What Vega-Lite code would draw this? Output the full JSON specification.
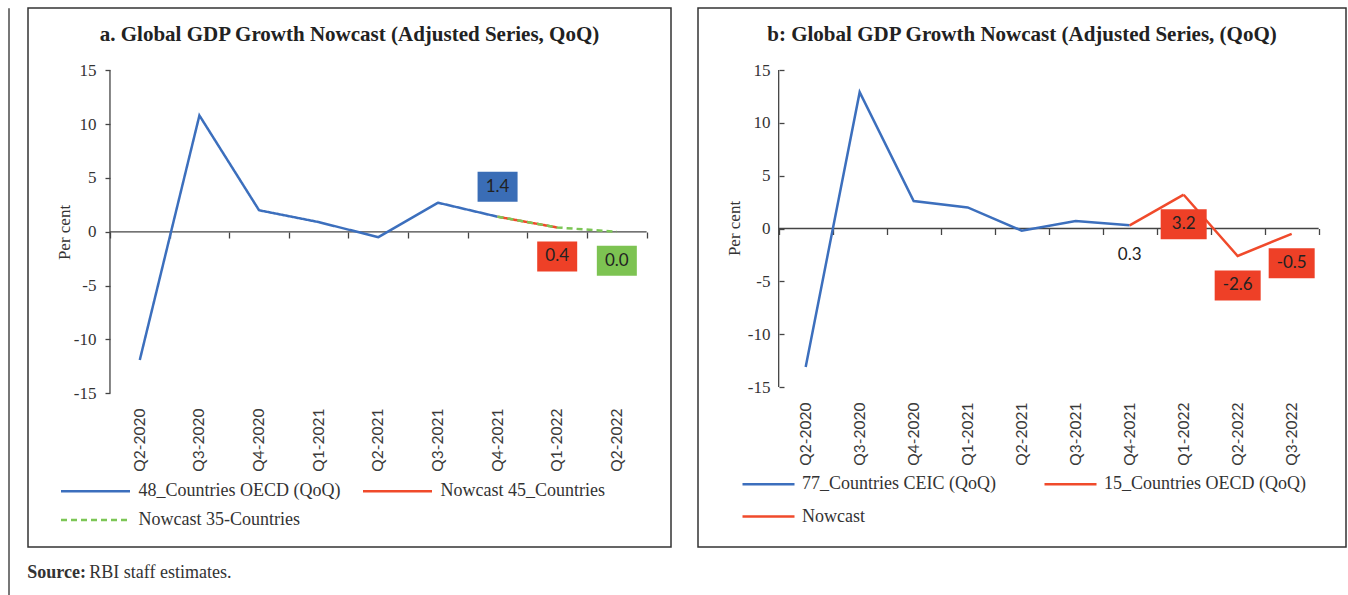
{
  "$schema": "https://vega.github.io/schema/vega-lite/v6.json",
  "padding": {"left": 7, "top": 7, "right": 0, "bottom": 0},
  "config": {
    "view": {"stroke": "#333333", "strokeWidth": 1.5},
    "axis": {"grid": false},
    "background": "white",
    "locale": {"number": {"decimal": ".", "thousands": ",", "grouping": [3], "currency": ["$", ""], "minus": "-"}}
  },
  "spacing": 17,
  "hconcat": [
    {
      "width": 1,
      "height": 588,
      "view": {"stroke": "#777777", "strokeWidth": 1},
      "data": {"values": [{}]},
      "mark": {"type": "rule", "opacity": 0},
      "encoding": {}
    },
    {
      "title": {"text": "Source:", "orient": "bottom", "anchor": "start", "font": "Liberation Serif", "fontSize": 18, "fontWeight": "bold", "color": "#333333", "offset": -18},
      "vconcat": [
        {
          "title": {"text": "RBI staff estimates.", "orient": "bottom", "anchor": "start", "dx": 62, "offset": 16, "font": "Liberation Serif", "fontSize": 18, "fontWeight": "normal", "color": "#333333"},
          "spacing": 25,
          "resolve": {
            "scale": {"x": "independent", "y": "independent", "color": "independent", "strokeDash": "independent"},
            "legend": {"color": "independent", "strokeDash": "independent"}
          },
          "hconcat": [
            {
              "width": 643,
              "height": 539,
              "title": {"text": "a. Global GDP Growth Nowcast (Adjusted Series, QoQ)", "font": "Liberation Serif", "fontSize": 21, "fontWeight": "bold", "color": "#222222", "anchor": "middle", "offset": -36.5},
              "data": {"values": [
                {"q": "Q2-2020", "v": -11.9, "s": "48_Countries OECD (QoQ)"},
                {"q": "Q3-2020", "v": 10.8, "s": "48_Countries OECD (QoQ)"},
                {"q": "Q4-2020", "v": 2.0, "s": "48_Countries OECD (QoQ)"},
                {"q": "Q1-2021", "v": 0.9, "s": "48_Countries OECD (QoQ)"},
                {"q": "Q2-2021", "v": -0.5, "s": "48_Countries OECD (QoQ)"},
                {"q": "Q3-2021", "v": 2.7, "s": "48_Countries OECD (QoQ)"},
                {"q": "Q4-2021", "v": 1.4, "s": "48_Countries OECD (QoQ)"},
                {"q": "Q4-2021", "v": 1.4, "s": "Nowcast 45_Countries"},
                {"q": "Q1-2022", "v": 0.4, "s": "Nowcast 45_Countries"},
                {"q": "Q4-2021", "v": 1.4, "s": "Nowcast 35-Countries"},
                {"q": "Q1-2022", "v": 0.4, "s": "Nowcast 35-Countries"},
                {"q": "Q2-2022", "v": 0.0, "s": "Nowcast 35-Countries"}
              ]},
              "resolve": {"axis": {"x": "independent"}},
              "layer": [
                {
                  "data": {"values": [{}]},
                  "mark": {"type": "rule", "color": "#444444", "strokeWidth": 1.3},
                  "encoding": {
                    "x": {"datum": "Q2-2020", "type": "ordinal", "bandPosition": 0,
                      "scale": {"type": "band", "domain": ["Q2-2020", "Q3-2020", "Q4-2020", "Q1-2021", "Q2-2021", "Q3-2021", "Q4-2021", "Q1-2022", "Q2-2022"], "paddingInner": 0, "paddingOuter": 0.8915, "align": 0.771},
                      "axis": {"orient": "bottom", "offset": -142, "domain": false, "ticks": false, "labelAngle": -90, "labelFont": "Lato", "labelFontSize": 15.5, "labelColor": "#3a3a3a", "labelPadding": 3, "title": null}
                    },
                    "y": {"datum": -15, "type": "quantitative",
                      "scale": {"domain": [-29.27, 20.78], "nice": false, "zero": false},
                      "axis": {"orient": "left", "offset": -82, "domain": false, "tickSize": 5, "tickColor": "#444444", "tickWidth": 1.3, "values": [-15, -10, -5, 0, 5, 10, 15], "labelFont": "Liberation Serif", "labelFontSize": 17, "labelColor": "#333333", "labelPadding": 9, "title": "Per cent", "titleFont": "Liberation Serif", "titleFontSize": 17, "titleFontWeight": "normal", "titleColor": "#333333", "titleX": -37, "titleY": 224}
                    },
                    "y2": {"datum": 15}
                  }
                },
                {
                  "data": {"values": [{}]},
                  "mark": {"type": "rule", "color": "#444444", "strokeWidth": 1.3},
                  "encoding": {
                    "x": {"datum": "Q2-2020", "type": "ordinal", "bandPosition": 0,
                      "axis": {"orient": "bottom", "offset": -315, "tickBand": "extent", "domain": false, "labels": false, "tickSize": 6, "tickColor": "#444444", "tickWidth": 1.3, "title": null}
                    },
                    "x2": {"datum": "Q2-2022", "bandPosition": 1},
                    "y": {"datum": 0, "type": "quantitative"}
                  }
                },
                {
                  "transform": [{"filter": "datum.s == '48_Countries OECD (QoQ)'"}],
                  "mark": {"type": "line", "strokeWidth": 2.5},
                  "encoding": {
                    "x": {"field": "q", "type": "ordinal", "axis": null},
                    "y": {"field": "v", "type": "quantitative", "title": "Per cent"},
                    "color": {"field": "s", "type": "nominal",
                      "scale": {"domain": ["48_Countries OECD (QoQ)", "Nowcast 45_Countries", "Nowcast 35-Countries"], "range": ["#3c6fbd", "#f04a2b", "#7cc656"]},
                      "legend": {"title": null, "orient": "none", "legendX": 56, "legendY": 471.5, "direction": "horizontal", "columns": 2, "columnPadding": 17, "rowPadding": 8, "symbolType": "M-3.45,0H3.45", "symbolSize": 400, "symbolStrokeWidth": 2.5, "labelFont": "Liberation Serif", "labelFontSize": 18, "labelColor": "#333333", "labelOffset": 31.5, "labelLimit": 400}
                    },
                    "strokeDash": {"field": "s", "type": "nominal",
                      "scale": {"domain": ["48_Countries OECD (QoQ)", "Nowcast 45_Countries", "Nowcast 35-Countries"], "range": [[1, 0], [1, 0], [6, 4]]},
                      "legend": {"title": null, "orient": "none", "legendX": 56, "legendY": 471.5, "direction": "horizontal", "columns": 2, "columnPadding": 17, "rowPadding": 8, "symbolType": "M-3.45,0H3.45", "symbolSize": 400, "symbolStrokeWidth": 2.5, "labelFont": "Liberation Serif", "labelFontSize": 18, "labelColor": "#333333", "labelOffset": 31.5, "labelLimit": 400}
                    }
                  }
                },
                {
                  "transform": [{"filter": "datum.s == 'Nowcast 45_Countries'"}],
                  "mark": {"type": "line", "strokeWidth": 2.5},
                  "encoding": {
                    "x": {"field": "q", "type": "ordinal", "axis": null},
                    "y": {"field": "v", "type": "quantitative", "title": "Per cent"},
                    "color": {"field": "s", "type": "nominal"},
                    "strokeDash": {"field": "s", "type": "nominal"}
                  }
                },
                {
                  "transform": [{"filter": "datum.s == 'Nowcast 35-Countries'"}],
                  "mark": {"type": "line", "strokeWidth": 2.5},
                  "encoding": {
                    "x": {"field": "q", "type": "ordinal", "axis": null},
                    "y": {"field": "v", "type": "quantitative", "title": "Per cent"},
                    "color": {"field": "s", "type": "nominal"},
                    "strokeDash": {"field": "s", "type": "nominal"}
                  }
                },
                {
                  "transform": [{"filter": "datum.q == 'Q4-2021' && datum.s == '48_Countries OECD (QoQ)'"}],
                  "mark": {"type": "point", "shape": "M-2,-1.5H2V1.5H-2Z", "size": 400, "filled": true, "color": "#3a6db6", "opacity": 1, "strokeWidth": 0, "yOffset": -30},
                  "encoding": {"x": {"field": "q", "type": "ordinal", "axis": null}, "y": {"field": "v", "type": "quantitative", "title": "Per cent"}}
                },
                {
                  "transform": [{"filter": "datum.q == 'Q4-2021' && datum.s == '48_Countries OECD (QoQ)'"}],
                  "mark": {"type": "text", "font": "Lato", "fontSize": 17, "color": "#222222", "baseline": "middle", "yOffset": -30},
                  "encoding": {"x": {"field": "q", "type": "ordinal", "axis": null}, "y": {"field": "v", "type": "quantitative", "title": "Per cent"}, "text": {"field": "v", "type": "quantitative", "format": ".1f"}}
                },
                {
                  "transform": [{"filter": "datum.q == 'Q1-2022' && datum.s == 'Nowcast 45_Countries'"}],
                  "mark": {"type": "point", "shape": "M-2,-1.5H2V1.5H-2Z", "size": 400, "filled": true, "color": "#ee4027", "opacity": 1, "strokeWidth": 0, "yOffset": 29},
                  "encoding": {"x": {"field": "q", "type": "ordinal", "axis": null}, "y": {"field": "v", "type": "quantitative", "title": "Per cent"}}
                },
                {
                  "transform": [{"filter": "datum.q == 'Q1-2022' && datum.s == 'Nowcast 45_Countries'"}],
                  "mark": {"type": "text", "font": "Lato", "fontSize": 17, "color": "#222222", "baseline": "middle", "yOffset": 29},
                  "encoding": {"x": {"field": "q", "type": "ordinal", "axis": null}, "y": {"field": "v", "type": "quantitative", "title": "Per cent"}, "text": {"field": "v", "type": "quantitative", "format": ".1f"}}
                },
                {
                  "transform": [{"filter": "datum.q == 'Q2-2022' && datum.s == 'Nowcast 35-Countries'"}],
                  "mark": {"type": "point", "shape": "M-2,-1.5H2V1.5H-2Z", "size": 400, "filled": true, "color": "#7dc352", "opacity": 1, "strokeWidth": 0, "yOffset": 29},
                  "encoding": {"x": {"field": "q", "type": "ordinal", "axis": null}, "y": {"field": "v", "type": "quantitative", "title": "Per cent"}}
                },
                {
                  "transform": [{"filter": "datum.q == 'Q2-2022' && datum.s == 'Nowcast 35-Countries'"}],
                  "mark": {"type": "text", "font": "Lato", "fontSize": 17, "color": "#222222", "baseline": "middle", "yOffset": 29},
                  "encoding": {"x": {"field": "q", "type": "ordinal", "axis": null}, "y": {"field": "v", "type": "quantitative", "title": "Per cent"}, "text": {"field": "v", "type": "quantitative", "format": ".1f"}}
                }
              ]
            },
            {
              "width": 648,
              "height": 539,
              "title": {"text": "b: Global GDP Growth Nowcast (Adjusted Series, (QoQ)", "font": "Liberation Serif", "fontSize": 21, "fontWeight": "bold", "color": "#222222", "anchor": "middle", "offset": -36.5},
              "data": {"values": [
                {"q": "Q2-2020", "v": -13.1, "s": "77_Countries CEIC (QoQ)"},
                {"q": "Q3-2020", "v": 12.9, "s": "77_Countries CEIC (QoQ)"},
                {"q": "Q4-2020", "v": 2.6, "s": "77_Countries CEIC (QoQ)"},
                {"q": "Q1-2021", "v": 2.0, "s": "77_Countries CEIC (QoQ)"},
                {"q": "Q2-2021", "v": -0.2, "s": "77_Countries CEIC (QoQ)"},
                {"q": "Q3-2021", "v": 0.7, "s": "77_Countries CEIC (QoQ)"},
                {"q": "Q4-2021", "v": 0.3, "s": "77_Countries CEIC (QoQ)"},
                {"q": "Q4-2021", "v": 0.3, "s": "15_Countries OECD (QoQ)"},
                {"q": "Q1-2022", "v": 3.2, "s": "15_Countries OECD (QoQ)"},
                {"q": "Q1-2022", "v": 3.2, "s": "Nowcast"},
                {"q": "Q2-2022", "v": -2.6, "s": "Nowcast"},
                {"q": "Q3-2022", "v": -0.5, "s": "Nowcast"}
              ]},
              "resolve": {"axis": {"x": "independent"}},
              "layer": [
                {
                  "data": {"values": [{}]},
                  "mark": {"type": "rule", "color": "#444444", "strokeWidth": 1.3},
                  "encoding": {
                    "x": {"datum": "Q2-2020", "type": "ordinal", "bandPosition": 0,
                      "scale": {"type": "band", "domain": ["Q2-2020", "Q3-2020", "Q4-2020", "Q1-2021", "Q2-2021", "Q3-2021", "Q4-2021", "Q1-2022", "Q2-2022", "Q3-2022"], "paddingInner": 0, "paddingOuter": 1.0755, "align": 0.747},
                      "axis": {"orient": "bottom", "offset": -148, "domain": false, "ticks": false, "labelAngle": -90, "labelFont": "Lato", "labelFontSize": 15.5, "labelColor": "#3a3a3a", "labelPadding": 3, "title": null}
                    },
                    "y": {"datum": -15, "type": "quantitative",
                      "scale": {"domain": [-30.14, 20.87], "nice": false, "zero": false},
                      "axis": {"orient": "left", "offset": -86, "domain": false, "tickSize": 5, "tickColor": "#444444", "tickWidth": 1.3, "values": [-15, -10, -5, 0, 5, 10, 15], "labelFont": "Liberation Serif", "labelFontSize": 17, "labelColor": "#333333", "labelPadding": 9, "title": "Per cent", "titleFont": "Liberation Serif", "titleFontSize": 17, "titleFontWeight": "normal", "titleColor": "#333333", "titleX": -41, "titleY": 220}
                    },
                    "y2": {"datum": 15}
                  }
                },
                {
                  "data": {"values": [{}]},
                  "mark": {"type": "rule", "color": "#444444", "strokeWidth": 1.3},
                  "encoding": {
                    "x": {"datum": "Q2-2020", "type": "ordinal", "bandPosition": 0,
                      "axis": {"orient": "bottom", "offset": -318.5, "tickBand": "extent", "domain": false, "labels": false, "tickSize": 6, "tickColor": "#444444", "tickWidth": 1.3, "title": null}
                    },
                    "x2": {"datum": "Q3-2022", "bandPosition": 1},
                    "y": {"datum": 0, "type": "quantitative"}
                  }
                },
                {
                  "transform": [{"filter": "datum.s == '77_Countries CEIC (QoQ)'"}],
                  "mark": {"type": "line", "strokeWidth": 2.5},
                  "encoding": {
                    "x": {"field": "q", "type": "ordinal", "axis": null},
                    "y": {"field": "v", "type": "quantitative", "title": "Per cent"},
                    "color": {"field": "s", "type": "nominal",
                      "scale": {"domain": ["77_Countries CEIC (QoQ)", "15_Countries OECD (QoQ)", "Nowcast"], "range": ["#3c6fbd", "#f04a2b", "#f04a2b"]},
                      "legend": {"title": null, "orient": "none", "legendX": 59, "legendY": 464.5, "direction": "horizontal", "columns": 2, "columnPadding": 43, "rowPadding": 11.6, "symbolType": "M-2.6,0H2.6", "symbolSize": 400, "symbolStrokeWidth": 2.5, "labelFont": "Liberation Serif", "labelFontSize": 18, "labelColor": "#333333", "labelOffset": 22, "labelLimit": 400}
                    }
                  }
                },
                {
                  "transform": [{"filter": "datum.s == '15_Countries OECD (QoQ)'"}],
                  "mark": {"type": "line", "strokeWidth": 2.5},
                  "encoding": {
                    "x": {"field": "q", "type": "ordinal", "axis": null},
                    "y": {"field": "v", "type": "quantitative", "title": "Per cent"},
                    "color": {"field": "s", "type": "nominal"}
                  }
                },
                {
                  "transform": [{"filter": "datum.s == 'Nowcast'"}],
                  "mark": {"type": "line", "strokeWidth": 2.5},
                  "encoding": {
                    "x": {"field": "q", "type": "ordinal", "axis": null},
                    "y": {"field": "v", "type": "quantitative", "title": "Per cent"},
                    "color": {"field": "s", "type": "nominal"}
                  }
                },
                {
                  "transform": [{"filter": "datum.q == 'Q4-2021' && datum.s == '77_Countries CEIC (QoQ)'"}],
                  "mark": {"type": "text", "font": "Lato", "fontSize": 17, "color": "#222222", "baseline": "middle", "yOffset": 30},
                  "encoding": {"x": {"field": "q", "type": "ordinal", "axis": null}, "y": {"field": "v", "type": "quantitative", "title": "Per cent"}, "text": {"field": "v", "type": "quantitative", "format": ".1f"}}
                },
                {
                  "transform": [{"filter": "datum.s == 'Nowcast'"}],
                  "mark": {"type": "point", "shape": "M-2.3,-1.5H2.3V1.5H-2.3Z", "size": 400, "filled": true, "color": "#ee4027", "opacity": 1, "strokeWidth": 0, "yOffset": 29.5},
                  "encoding": {"x": {"field": "q", "type": "ordinal", "axis": null}, "y": {"field": "v", "type": "quantitative", "title": "Per cent"}}
                },
                {
                  "transform": [{"filter": "datum.s == 'Nowcast'"}],
                  "mark": {"type": "text", "font": "Lato", "fontSize": 17, "color": "#222222", "baseline": "middle", "yOffset": 29.5},
                  "encoding": {"x": {"field": "q", "type": "ordinal", "axis": null}, "y": {"field": "v", "type": "quantitative", "title": "Per cent"}, "text": {"field": "v", "type": "quantitative", "format": ".1f"}}
                }
              ]
            }
          ]
        }
      ]
    }
  ]
}
